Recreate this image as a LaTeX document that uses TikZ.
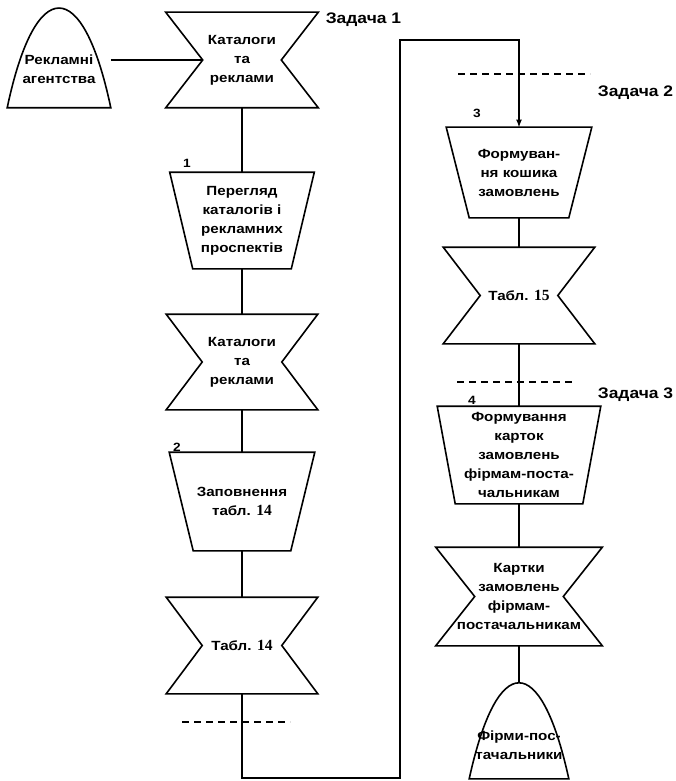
\documentclass[tikz,border=0pt]{standalone}
\usepackage{fontspec}
\setmainfont{Liberation Sans}[FakeStretch=1.14]
\newfontfamily\tabnumfont{Liberation Serif}
\newcommand{\tabnum}[1]{{\tabnumfont\bfseries\fontsize{15.5}{19}\selectfont #1}}
\usetikzlibrary{positioning}

\begin{document}
\begin{tikzpicture}[x=1pt,y=-1pt,->,>=latex,line width=1.6pt,
    font=\bfseries\fontsize{13.3}{19}\selectfont,
    blk/.style args={#1/#2}{minimum width=#1pt,minimum height=#2pt,inner sep=0pt,align=center},
    task/.style={font=\bfseries\fontsize{15.3}{19}\selectfont,inner sep=1pt},
    num/.style={font=\bfseries\fontsize{12}{14}\selectfont}]

\useasboundingbox (0,0) rectangle (676,781);

% left column
\node[blk=102/76] (ag) at (59,69) {Рекламні\\агентства};
\node[blk=151/94] (cat1) at (242,60) {Каталоги\\та\\реклами};
\node[blk=143/95] (trap1) at (242,220.5) {Перегляд\\каталогів і\\рекламних\\проспектів};
\node[blk=150/94] (cat2) at (242,362) {Каталоги\\та\\реклами};
\node[blk=144/97] (trap2) at (242,501.5) {Заповнення\\табл. \tabnum{14}};
\node[blk=150/95] (tab14) at (242,645.5) {Табл. \tabnum{14}};

% right column
\node[blk=144/89] (trap3) at (519,172.5) {Формуван-\\ня кошика\\замовлень};
\node[blk=150/95] (tab15) at (519,295.5) {Табл. \tabnum{15}};
\node[blk=162/96] (trap4) at (519,455) {Формування\\карток\\замовлень\\фірмам-поста-\\чальникам};
\node[blk=165/97] (cards) at (519,596.5) {Картки\\замовлень\\фірмам-\\постачальникам};
\node[blk=98/66] (firms) at (519,745) {Фірми-пос-\\тачальники};

\node[num] (n1) at (187,163) {1};
\node[num] (n2) at (177,447) {2};
\node[num] (n3) at (477,113) {3};
\node[num] (n4) at (472,400) {4};

\node[task,anchor=west] (z1) at (324,20) {Задача 1};
\node[task,anchor=east] (z2) at (675,93) {Задача 2};
\node[task,anchor=east] (z3) at (675,395) {Задача 3};

\coordinate (c1) at (400,778);
\coordinate (c2) at (400,40);

% shapes
\foreach \n/\d in {cat1/37,cat2/36,tab14/36,tab15/37,cards/39}
    \draw[-] (\n.north west) -- (\n.north east) -- ([xshift=-\d pt]\n.east)
        -- (\n.south east) -- (\n.south west) -- ([xshift=\d pt]\n.west) -- cycle;
\foreach \n/\d in {trap1/23,trap2/24,trap3/23,trap4/18}
    \draw[-] (\n.north west) -- (\n.north east) -- ([xshift=-\d pt]\n.south east)
        -- ([xshift=\d pt]\n.south west) -- cycle;
\foreach \n/\h in {ag/133,firms/128}
    \draw[-] (\n.south west) .. controls ([xshift=28pt,yshift=\h pt]\n.south west)
        and ([xshift=-28pt,yshift=\h pt]\n.south east) .. (\n.south east) -- cycle;

\path [draw,-]
    ([yshift=9pt]ag.east) -- ([xshift=37pt]cat1.west)
    (cat1.south) -- (trap1.north)
    (trap1.south) -- (cat2.north)
    (cat2.south) -- (trap2.north)
    (trap2.south) -- (tab14.north)
    (trap3.south) -- (tab15.north)
    (tab15.south) -- (trap4.north)
    (trap4.south) -- (cards.north)
    (cards.south) -- ([yshift=96pt]firms.south)
;
\draw (tab14.south) |- (c1) -- (c2) -| (trap3.north);

% task borders
\draw[-,line width=1.1pt,dash pattern=on 7pt off 5pt] (182,722) -- (290,722);
\draw[-,line width=1.1pt,dash pattern=on 7pt off 5pt] (458,74) -- (590,74);
\draw[-,line width=1.1pt,dash pattern=on 7pt off 5pt] (457,382) -- (575,382);

\end{tikzpicture}
\end{document}
